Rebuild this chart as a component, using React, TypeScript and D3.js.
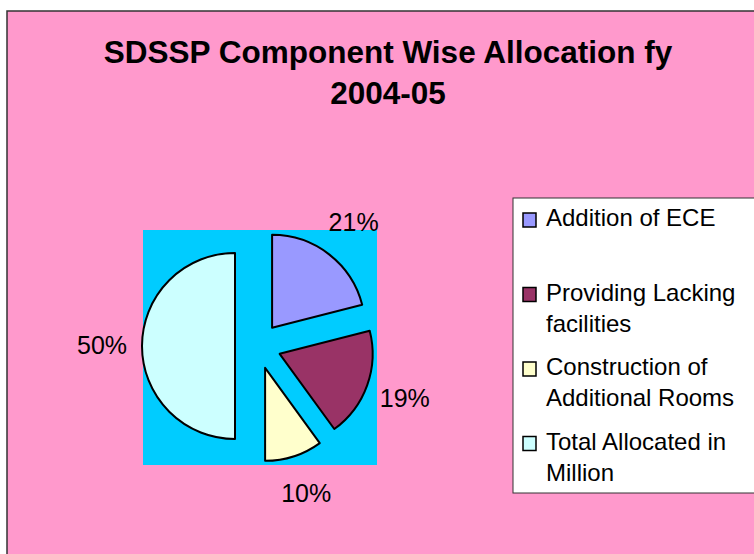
import React from 'react'
import * as d3 from 'd3'

const categories = [
  'Addition of ECE',
  'Providing Lacking facilities',
  'Construction of Additional Rooms',
  'Total Allocated in Million',
]
const legendLines = [
  ['Addition of ECE'],
  ['Providing Lacking', 'facilities'],
  ['Construction of', 'Additional Rooms'],
  ['Total Allocated in', 'Million'],
]
const values = [21, 19, 10, 50]
const sliceColors = ['#9999FF', '#993366', '#FFFFCC', '#CCFFFF']

const W = 754
const H = 554
const font = '"Liberation Sans", Arial, sans-serif'
const pct = d3.format('.0%')

const radius = 93
const explode = 23
const labelRadius = 156
const cx = 258
const cy = 346

const App = () => {
  const total = d3.sum(values)
  const pie = d3
    .pie<number>()
    .value(d => d)
    .sort(null)
  const arcs = pie(values)
  const arcGen = d3.arc<d3.PieArcDatum<number>>().innerRadius(0).outerRadius(radius)

  const mid = (d: d3.PieArcDatum<number>) => (d.startAngle + d.endAngle) / 2

  return (
    <svg
      width={W}
      height={H}
      style={{ position: 'absolute', left: 0, top: 0, background: '#fff' }}
    >
      <rect x={7} y={11} width={800} height={600} fill="#FF99CC" stroke="#333" strokeWidth={1.5} />
      <text x={388} y={63} textAnchor="middle" fontFamily={font} fontWeight="bold" fontSize={31.5}>
        SDSSP Component Wise Allocation fy
      </text>
      <text x={388} y={104} textAnchor="middle" fontFamily={font} fontWeight="bold" fontSize={31.5}>
        2004-05
      </text>

      <rect x={143} y={230} width={234} height={235} fill="#00CCFF" />

      <g transform={`translate(${cx},${cy})`}>
        {arcs.map((d, i) => {
          const a = mid(d)
          const dx = Math.sin(a) * explode
          const dy = -Math.cos(a) * explode
          return (
            <path
              key={i}
              d={arcGen(d) || ''}
              transform={`translate(${dx},${dy})`}
              fill={sliceColors[i]}
              stroke="#000"
              strokeWidth={2}
              strokeLinejoin="round"
            />
          )
        })}
        {arcs.map((d, i) => {
          const a = mid(d)
          return (
            <text
              key={'l' + i}
              x={Math.sin(a) * labelRadius}
              y={-Math.cos(a) * labelRadius + 8}
              textAnchor="middle"
              fontFamily={font}
              fontSize={25}
              fill="#000"
            >
              {pct(d.data / total)}
            </text>
          )
        })}
      </g>

      <g>
        <rect x={513} y={198} width={260} height={295} fill="#fff" stroke="#333" strokeWidth={1} />
        {categories.map((c, i) => {
          const base = 226 + i * 74.5
          return (
            <g key={c}>
              <rect
                x={523}
                y={base - 13}
                width={13}
                height={14}
                fill={sliceColors[i]}
                stroke="#000"
                strokeWidth={1.5}
              />
              {legendLines[i].map((line, j) => (
                <text key={j} x={546} y={base + j * 31} fontFamily={font} fontSize={24} fill="#000">
                  {line}
                </text>
              ))}
            </g>
          )
        })}
      </g>
    </svg>
  )
}

export default App
